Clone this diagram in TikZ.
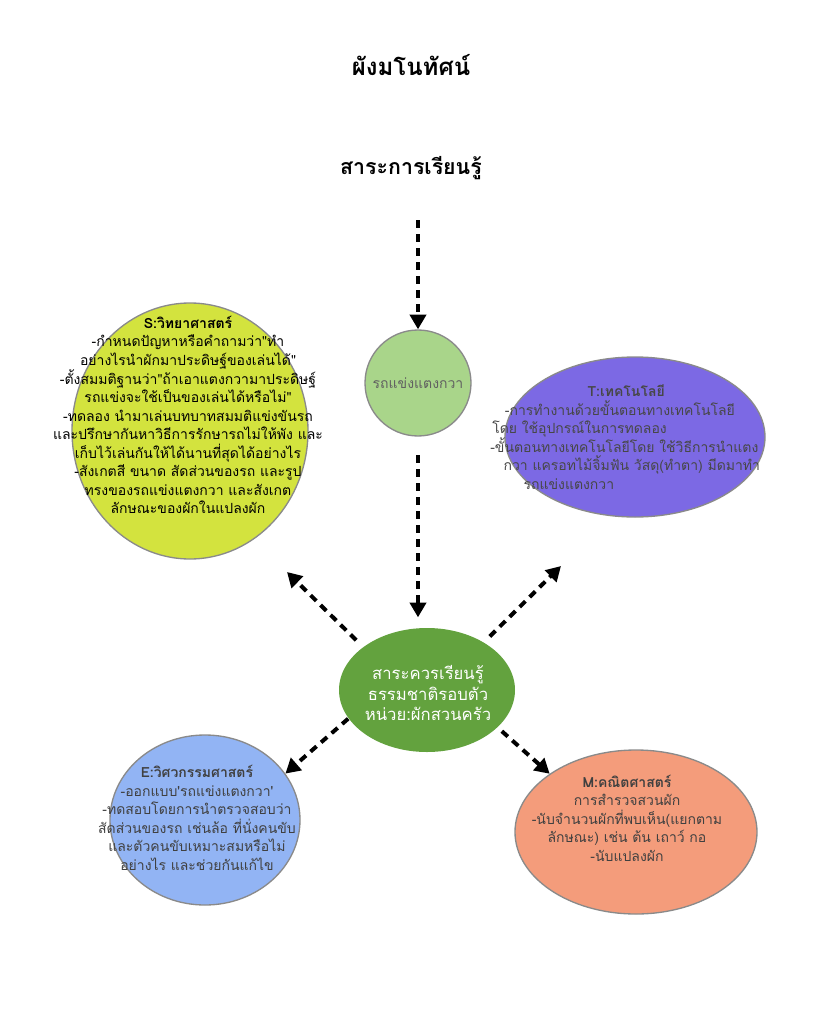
\documentclass[tikz,border=0pt]{standalone}
\usepackage{fontspec}
\newfontfamily\thaifont[Script=Thai]{Loma}
\usetikzlibrary{arrows.meta,shapes.geometric}

\definecolor{limeFill}{HTML}{D3E33E}
\definecolor{carFill}{HTML}{A9D58A}
\definecolor{techFill}{HTML}{7C69E4}
\definecolor{hubFill}{HTML}{63A23E}
\definecolor{engFill}{HTML}{92B4F4}
\definecolor{mathFill}{HTML}{F49C7B}
\definecolor{rimGray}{HTML}{8A8A8A}

\begin{document}
\begin{tikzpicture}[
  x=0.75pt, y=-0.75pt,
  font=\thaifont,
  bubble/.style={ellipse, draw=rimGray, line width=1pt, inner sep=0pt},
  body/.style={font=\thaifont\fontsize{10.5}{13.9}\selectfont, align=center, inner sep=0pt},
  heading/.style={font=\thaifont\bfseries\fontsize{16}{19}\selectfont, inner sep=0pt},
  flow/.style={line width=3pt, dash pattern=on 6pt off 4.5pt, -{Triangle[length=11pt,width=12pt]}}
]
\useasboundingbox (0,0) rectangle (822,1024);

% Titles
\node[heading, font=\thaifont\bfseries\fontsize{18}{22}\selectfont] (title) at (411,65) {ผังมโนทัศน์};
\node[heading] (learn) at (411,168) {สาระการเรียนรู้};

% Bubbles
\node[bubble, fill=limeFill, minimum width=177pt, minimum height=192pt] (sci) at (190,431) {};
\node[bubble, fill=carFill, circle, minimum size=79.5pt] (car) at (418,383) {};
\node[bubble, fill=techFill, minimum width=195pt, minimum height=120pt] (tech) at (635,437) {};
\node[bubble, fill=hubFill, draw=none, minimum width=132pt, minimum height=93pt] (hub) at (427,690) {};
\node[bubble, fill=engFill, minimum width=142.5pt, minimum height=127.5pt] (eng) at (205,820) {};
\node[bubble, fill=mathFill, minimum width=181.5pt, minimum height=123pt] (math) at (636,832) {};

% Texts
\node[body] (sciText) at (188,415) {%
  \textbf{S:วิทยาศาสตร์}\\
  -กำหนดปัญหาหรือคำถามว่า"ทำ\\
  อย่างไรนำผักมาประดิษฐ์ของเล่นได้"\\
  -ตั้งสมมติฐานว่า"ถ้าเอาแตงกวามาประดิษฐ์\\
  รถแข่งจะใช้เป็นของเล่นได้หรือไม่"\\
  -ทดลอง นำมาเล่นบทบาทสมมติแข่งขันรถ\\
  และปรึกษากันหาวิธีการรักษารถไม่ให้พัง และ\\
  เก็บไว้เล่นกันให้ได้นานที่สุดได้อย่างไร\\
  -สังเกตสี ขนาด สัดส่วนของรถ และรูป\\
  ทรงของรถแข่งแตงกวา และสังเกต\\
  ลักษณะของผักในแปลงผัก};
\node[body, text=black!62] (carText) at (418,383) {รถแข่งแตงกวา};
\node[body, align=left, anchor=west, text=black!72] (techText) at (490,437) {%
  \hspace*{73pt}\textbf{T:เทคโนโลยี}\\
  \hspace*{11pt}-การทำงานด้วยขั้นตอนทางเทคโนโลยี\\
  \hspace*{1.5pt}โดย ใช้อุปกรณ์ในการทดลอง\\
  -ขั้นตอนทางเทคโนโลยีโดย ใช้วิธีการนำแตง\\
  \hspace*{10pt}กวา แครอทไม้จิ้มฟัน วัสดุ(ทำตา) มีดมาทำ\\
  \hspace*{25pt}รถแข่งแตงกวา};
\node[body, text=white, font=\thaifont\fontsize{12.5}{15.5}\selectfont] (hubText) at (428,693) {%
  สาระควรเรียนรู้\\ธรรมชาติรอบตัว\\หน่วย:ผักสวนครัว};
\node[body, text=black!75] (engText) at (197,818) {%
  \textbf{E:วิศวกรรมศาสตร์}\\
  -ออกแบบ'รถแข่งแตงกวา'\\
  -ทดสอบโดยการนำตรวจสอบว่า\\
  สัดส่วนของรถ เช่นล้อ ที่นั่งคนขับ\\
  และตัวคนขับเหมาะสมหรือไม่\\
  อย่างไร และช่วยกันแก้ไข};
\node[body, text=black!75] (mathText) at (627,818) {%
  \textbf{M:คณิตศาสตร์}\\
  การสำรวจสวนผัก\\
  -นับจำนวนผักที่พบเห็น(แยกตาม\\
  ลักษณะ) เช่น ต้น เถาว์ กอ\\
  -นับแปลงผัก};

% Arrows
\coordinate (learnTail) at (418,220);
\coordinate (sciTip) at (287,572);
\coordinate (techTip) at (561,566);
\draw[flow] (learnTail) -- (car);
\draw[flow, shorten <=14pt, shorten >=7.5pt] (car.south) -- (car.south |- hub.north);
\draw[flow, shorten <=7pt] (hub.146) -- (sciTip);
\draw[flow, shorten <=6pt] (hub.40) -- (techTip);
\draw[flow] (hub.200) -- (eng.30);
\draw[flow, shorten <=4pt] (hub.332) -- (math.146);
\end{tikzpicture}
\end{document}
